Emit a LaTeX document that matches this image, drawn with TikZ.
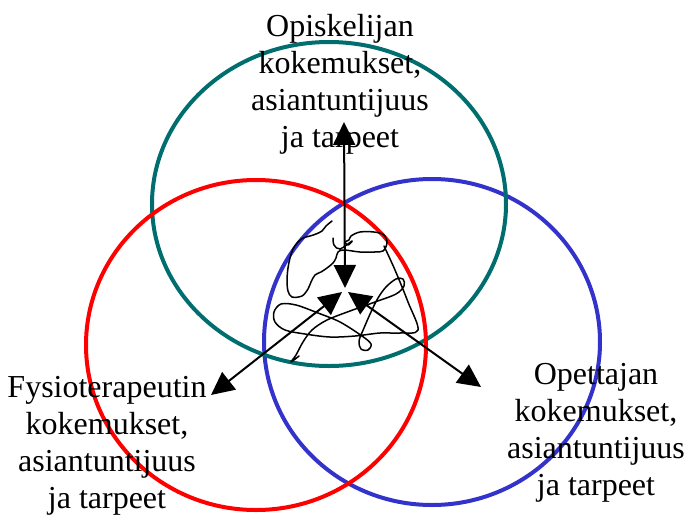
\documentclass[tikz,border=0pt]{standalone}
\usepackage{fontspec}
\setmainfont{Liberation Serif}
\usetikzlibrary{arrows.meta}
\definecolor{ringteal}{RGB}{0,110,110}
\definecolor{ringred}{RGB}{255,0,0}
\definecolor{ringblue}{RGB}{51,51,204}
\tikzset{
  ring/.style={line width=2pt},
  lbl/.style={align=center, anchor=north, inner sep=0pt, font=\fontsize{16}{18.5}\selectfont},
  dblarrow/.style={line width=1pt, {Triangle[length=11.5pt,width=11pt]}-{Triangle[length=11.5pt,width=11pt]}},
  scrib/.style={line width=0.75pt, line join=round, line cap=round}
}
\begin{document}
\begin{tikzpicture}[x=0.5pt,y=-0.5pt]
\useasboundingbox (0,0) rectangle (686,515);
% rings
\draw[ring, ringblue] (432,342) ellipse [x radius=168, y radius=163];
\draw[ring, ringteal] (329,204) ellipse [x radius=177, y radius=162];
\draw[ring, ringred] (256,345) ellipse [x radius=170, y radius=165];
% scribble
\draw[scrib] plot[smooth, tension=0.55] coordinates {
 (332,221) (326,226) (322,231) (316,234) (310,236) (303,238) (298,242) (293,249) (290,258)
 (288,268) (287,280) (288,291) (292,297) (302,296) (308,289) (311,282) (315,275)
 (321,272) (327,268) (333,263) (336,258) (338,252) (344,250) (360,252) (374,252)
 (383,251) (387,243) (384,235) (374,232) (360,232) (351,236) (349,240) (345,242)
 (348,245) (352,241) (340,249) (334,245) (333,238)};
\draw[scrib] plot[smooth, tension=0.55] coordinates {
 (384,246) (395,270) (408,302) (418,330) (400,333) (380,333) (355,336) (330,337) (305,334)
 (285,330) (275,322) (274,312) (281,304) (296,305) (318,313) (340,322) (362,336)
 (371,344) (368,350) (361,349) (359,341) (364,328) (371,312) (378,298) (386,287)
 (396,279) (403,279) (404,286) (396,294) (375,302) (350,311) (327,320) (312,330)
 (303,342) (296,355) (291,362) (299,356)};
% central coordinates and arrow ends
\coordinate (cu) at (345,288);
\coordinate (cl) at (342,292);
\coordinate (cr) at (348,292);
\coordinate (up) at (344,122);
\coordinate (fl) at (211,395);
\coordinate (fr) at (481,387);
\draw[dblarrow] (up) -- (cu);
\draw[dblarrow] (fl) -- (cl);
\draw[dblarrow] (fr) -- (cr);
% labels
\node[lbl] (opisk) at (340,14) {Opiskelijan\\kokemukset,\\asiantuntijuus\\ja tarpeet};
\node[lbl] (fysio) at (107,376) {Fysioterapeutin\\kokemukset,\\asiantuntijuus\\ja tarpeet};
\node[lbl] (opett) at (596,363) {Opettajan\\kokemukset,\\asiantuntijuus\\ja tarpeet};
\end{tikzpicture}
\end{document}
